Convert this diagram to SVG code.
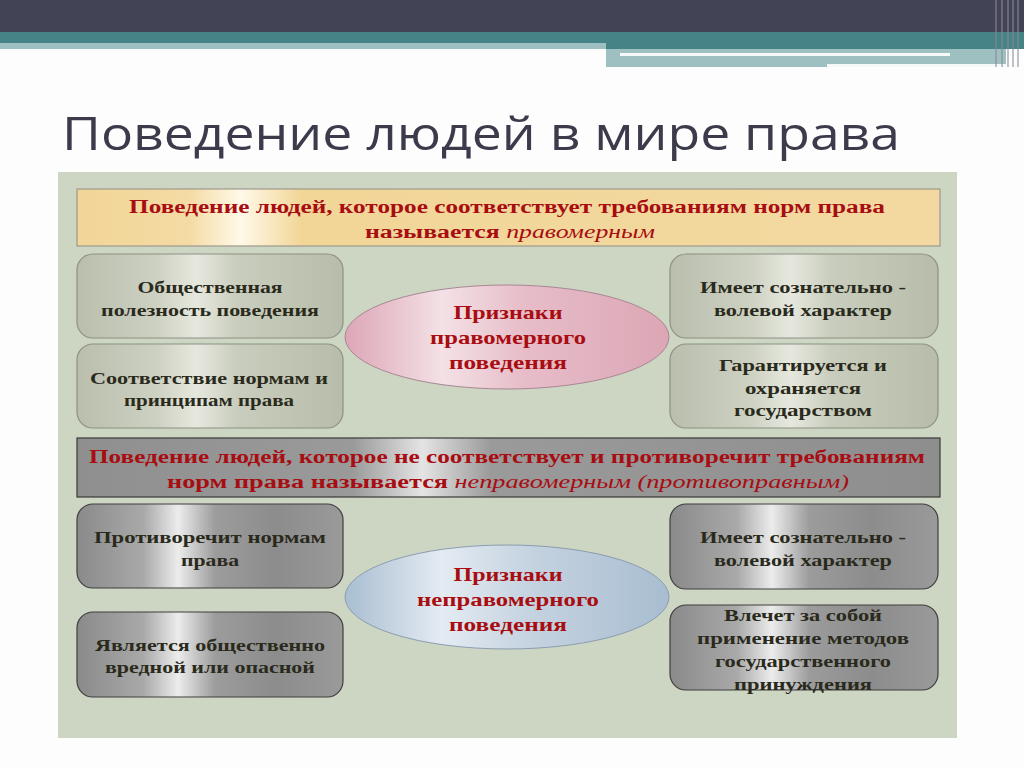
<svg xmlns="http://www.w3.org/2000/svg" width="1024" height="767" viewBox="0 0 1024 767">
<defs>
<linearGradient id="gYellow" x1="0" y1="0" x2="1" y2="0">
<stop offset="0" stop-color="#f2d597"/>
<stop offset="0.13" stop-color="#f4dba4"/>
<stop offset="0.19" stop-color="#fff9e8"/>
<stop offset="0.26" stop-color="#f2d698"/>
<stop offset="1" stop-color="#f3d9a1"/>
</linearGradient>
<linearGradient id="gLight" x1="0" y1="0" x2="1" y2="0">
<stop offset="0" stop-color="#b9bead"/>
<stop offset="0.3" stop-color="#cdd1c2"/>
<stop offset="0.45" stop-color="#e6e8de"/>
<stop offset="0.6" stop-color="#c9cdbd"/>
<stop offset="1" stop-color="#b8bcaa"/>
</linearGradient>
<linearGradient id="gDark" x1="0" y1="0" x2="1" y2="0">
<stop offset="0" stop-color="#8a8a8a"/>
<stop offset="0.25" stop-color="#a9a9a9"/>
<stop offset="0.38" stop-color="#ececec"/>
<stop offset="0.52" stop-color="#9c9c9c"/>
<stop offset="0.75" stop-color="#8c8c8c"/>
<stop offset="1" stop-color="#9a9a9a"/>
</linearGradient>
<linearGradient id="gGrayHead" x1="0" y1="0" x2="1" y2="0">
<stop offset="0" stop-color="#8f8f8f"/>
<stop offset="0.32" stop-color="#9a9a9a"/>
<stop offset="0.4" stop-color="#e4e4e4"/>
<stop offset="0.48" stop-color="#9a9a9a"/>
<stop offset="1" stop-color="#8e8e8e"/>
</linearGradient>
<linearGradient id="gPink" x1="0" y1="0" x2="1" y2="0">
<stop offset="0" stop-color="#dda6b6"/>
<stop offset="0.3" stop-color="#f3e1e6"/>
<stop offset="0.55" stop-color="#e7bdc9"/>
<stop offset="1" stop-color="#dca6b5"/>
</linearGradient>
<linearGradient id="gBlue" x1="0" y1="0" x2="1" y2="0">
<stop offset="0" stop-color="#a9bed2"/>
<stop offset="0.3" stop-color="#e4ebf2"/>
<stop offset="0.55" stop-color="#c7d4e1"/>
<stop offset="1" stop-color="#a8bdd1"/>
</linearGradient>
<style>
.bx{font-family:"Liberation Serif","DejaVu Serif",serif;font-weight:bold;font-size:17px;fill:#2a2a1c;text-anchor:middle;}
.red{font-family:"Liberation Serif","DejaVu Serif",serif;font-weight:bold;font-size:18px;fill:#a80d12;text-anchor:middle;}
.el{font-family:"Liberation Serif","DejaVu Serif",serif;font-weight:bold;font-size:19px;fill:#a80d12;text-anchor:middle;}
.it{font-style:italic;font-weight:normal;}
.lb{fill:url(#gLight);stroke:#8e9184;stroke-width:1.2;}
.db{fill:url(#gDark);stroke:#3f3f3f;stroke-width:1.2;}
</style>
</defs>

<!-- page background -->
<rect x="0" y="0" width="1024" height="767" fill="#fdfdfd"/>

<!-- header bars -->
<g id="header">
<rect x="0" y="0" width="1024" height="32" fill="#434356"/>
<rect x="0" y="32" width="1024" height="17" fill="#468386"/>
<rect x="0" y="43" width="606" height="6" fill="#9dbfc1"/>
<rect x="606" y="49" width="400" height="18" fill="#9fc0c1"/>
<rect x="620" y="53" width="330" height="3" fill="#ffffff" opacity="0.9"/>
<rect x="827" y="64" width="180" height="3" fill="#ffffff" opacity="0.9"/>
<g stroke="#8a8a9a" stroke-width="1.5" opacity="0.7">
<line x1="996" y1="0" x2="996" y2="67"/>
<line x1="1002" y1="0" x2="1002" y2="67"/>
<line x1="1008" y1="0" x2="1008" y2="67"/>
<line x1="1013" y1="0" x2="1013" y2="67"/>
<line x1="1018" y1="0" x2="1018" y2="67"/>
</g>
</g>

<!-- title -->
<text x="62" y="150" font-family="'Open Sans','DejaVu Sans',sans-serif" font-size="46" fill="#3b3b4b" textLength="838" lengthAdjust="spacingAndGlyphs">Поведение людей в мире права</text>

<!-- panel -->
<rect x="58" y="172" width="899" height="566" fill="#cdd5c3"/>

<!-- top header box -->
<g id="lawful-header">
<rect x="77" y="189" width="863" height="57" fill="url(#gYellow)" stroke="#9d9a8c" stroke-width="1.2"/>
<text class="red" x="507" y="213" textLength="756" lengthAdjust="spacingAndGlyphs">Поведение людей, которое  соответствует требованиям норм права</text>
<text class="red" x="510" y="238" textLength="290" lengthAdjust="spacingAndGlyphs">называется <tspan class="it">правомерным</tspan></text>
</g>

<g id="l1">
<rect class="lb" x="77" y="254" width="266" height="84" rx="16"/>
<text class="bx" x="210" y="293" textLength="145" lengthAdjust="spacingAndGlyphs">Общественная</text>
<text class="bx" x="210" y="316" textLength="218" lengthAdjust="spacingAndGlyphs">полезность поведения</text>
</g>
<g id="l2">
<rect class="lb" x="77" y="344" width="266" height="84" rx="16"/>
<text class="bx" x="209" y="384" textLength="238" lengthAdjust="spacingAndGlyphs">Соответствие нормам и</text>
<text class="bx" x="209" y="406" textLength="170" lengthAdjust="spacingAndGlyphs">принципам права</text>
</g>
<g id="r1">
<rect class="lb" x="670" y="254" width="268" height="84" rx="16"/>
<text class="bx" x="803" y="293" textLength="206" lengthAdjust="spacingAndGlyphs">Имеет сознательно -</text>
<text class="bx" x="803" y="316" textLength="178" lengthAdjust="spacingAndGlyphs">волевой характер</text>
</g>
<g id="r2">
<rect class="lb" x="670" y="344" width="268" height="84" rx="16"/>
<text class="bx" x="803" y="371" textLength="168" lengthAdjust="spacingAndGlyphs">Гарантируется и</text>
<text class="bx" x="803" y="394" textLength="116" lengthAdjust="spacingAndGlyphs">охраняется</text>
<text class="bx" x="803" y="416" textLength="138" lengthAdjust="spacingAndGlyphs">государством</text>
</g>
<g id="e1">
<ellipse cx="507" cy="337" rx="162" ry="52" fill="url(#gPink)" stroke="#a88894" stroke-width="1"/>
<text class="el" x="508" y="319" textLength="109" lengthAdjust="spacingAndGlyphs">Признаки</text>
<text class="el" x="508" y="344" textLength="156" lengthAdjust="spacingAndGlyphs">правомерного</text>
<text class="el" x="508" y="369" textLength="118" lengthAdjust="spacingAndGlyphs">поведения</text>
</g>

<!-- bottom header box -->
<g id="unlawful-header">
<rect x="77" y="438" width="863" height="59" fill="url(#gGrayHead)" stroke="#3a3a3a" stroke-width="1.2"/>
<text class="red" x="507" y="463" textLength="836" lengthAdjust="spacingAndGlyphs">Поведение людей, которое  не соответствует и противоречит требованиям</text>
<text class="red" x="508" y="488" textLength="682" lengthAdjust="spacingAndGlyphs">норм права  называется <tspan class="it">неправомерным (противоправным)</tspan></text>
</g>

<g id="l3">
<rect class="db" x="77" y="504" width="266" height="84" rx="16"/>
<text class="bx" x="210" y="543" textLength="232" lengthAdjust="spacingAndGlyphs">Противоречит нормам</text>
<text class="bx" x="210" y="566" textLength="58" lengthAdjust="spacingAndGlyphs">права</text>
</g>
<g id="l4">
<rect class="db" x="77" y="612" width="266" height="85" rx="16"/>
<text class="bx" x="210" y="651" textLength="230" lengthAdjust="spacingAndGlyphs">Является общественно</text>
<text class="bx" x="210" y="673" textLength="210" lengthAdjust="spacingAndGlyphs">вредной или опасной</text>
</g>
<g id="r3">
<rect class="db" x="670" y="504" width="268" height="85" rx="16"/>
<text class="bx" x="803" y="543" textLength="206" lengthAdjust="spacingAndGlyphs">Имеет сознательно -</text>
<text class="bx" x="803" y="566" textLength="178" lengthAdjust="spacingAndGlyphs">волевой характер</text>
</g>
<g id="r4">
<rect class="db" x="670" y="605" width="268" height="85" rx="16"/>
<text class="bx" x="803" y="621" textLength="158" lengthAdjust="spacingAndGlyphs">Влечет за собой</text>
<text class="bx" x="803" y="644" textLength="212" lengthAdjust="spacingAndGlyphs">применение  методов</text>
<text class="bx" x="803" y="667" textLength="176" lengthAdjust="spacingAndGlyphs">государственного</text>
<text class="bx" x="803" y="690" textLength="138" lengthAdjust="spacingAndGlyphs">принуждения</text>
</g>
<g id="e2">
<ellipse cx="507" cy="597" rx="162" ry="52" fill="url(#gBlue)" stroke="#8b9db0" stroke-width="1"/>
<text class="el" x="508" y="581" textLength="109" lengthAdjust="spacingAndGlyphs">Признаки</text>
<text class="el" x="508" y="606" textLength="182" lengthAdjust="spacingAndGlyphs">неправомерного</text>
<text class="el" x="508" y="631" textLength="118" lengthAdjust="spacingAndGlyphs">поведения</text>
</g>

<g id="connectors"></g>
</svg>
